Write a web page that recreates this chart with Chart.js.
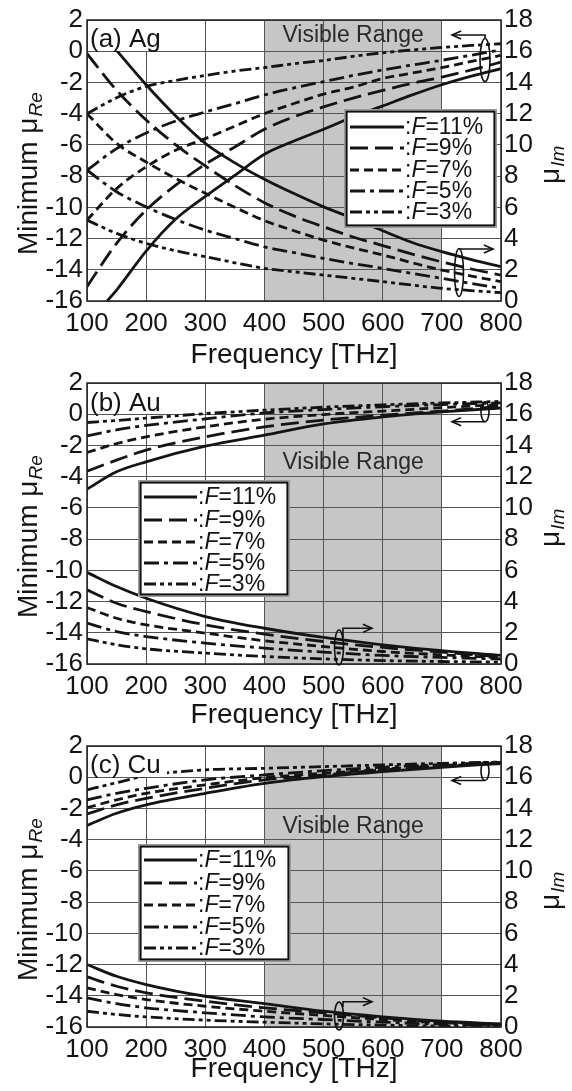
<!DOCTYPE html>
<html>
<head>
<meta charset="utf-8">
<script src="https://cdn.jsdelivr.net/npm/chart.js@4.4.0/dist/chart.umd.min.js"></script>
<style>
  html, body { margin: 0; padding: 0; background: #fff; }
  #wrap { position: relative; width: 572px; height: 1091px; overflow: hidden; }
  #wrap canvas { position: absolute; left: 0; }
</style>
</head>
<body>
<div id="wrap">
  <canvas id="chartAg" width="572" height="380" style="top:0px"></canvas>
  <canvas id="chartAu" width="572" height="380" style="top:363px"></canvas>
  <canvas id="chartCu" width="572" height="365" style="top:726px"></canvas>
</div>
<script>
// ---- data ----
// frequency samples [THz]
const freqAg = [100, 150, 200, 250, 300, 350, 400, 450, 500, 550, 600, 650, 700, 750, 800];
const freqAgRe11 = [134, 150, 200, 250, 300, 350, 400, 450, 500, 550, 600, 650, 700, 750, 800];
const freqAgIm11 = [140, 150, 200, 250, 300, 350, 400, 450, 500, 550, 600, 650, 700, 750, 800];
const freqAuCu = [100, 150, 200, 300, 400, 500, 600, 700, 800];

// visible range band [THz]
const bandStart = 400;
const bandEnd = 700;

// filling factors, same order as the series below
const fillFactors = ['11%', '9%', '7%', '5%', '3%'];

// (a) Ag - minimum mu Re (left axis)
const agRe11 = [-16, -15.3, -12.8, -10.75, -9.3, -7.95, -6.6, -5.75, -5.0, -4.2, -3.5, -2.8, -2.15, -1.6, -1.12];
const agRe9 = [-15.08, -12.31, -10.18, -8.58, -7.24, -6.13, -5.0, -4.2, -3.57, -3.0, -2.51, -2.05, -1.66, -1.2, -0.7];
const agRe7 = [-10.82, -8.8, -7.41, -6.34, -5.6, -4.8, -4.0, -3.35, -2.75, -2.3, -1.75, -1.4, -1.05, -0.65, -0.27];
const agRe5 = [-7.62, -6.24, -5.24, -4.47, -3.89, -3.36, -2.8, -2.35, -1.95, -1.55, -1.2, -0.88, -0.58, -0.25, 0.09];
const agRe3 = [-4.0, -2.98, -2.25, -1.87, -1.55, -1.27, -1.05, -0.8, -0.59, -0.33, -0.1, 0.08, 0.24, 0.37, 0.48];
// (a) Ag - mu Im (right axis)
const agIm11 = [16.5, 16.05, 13.85, 11.85, 10.1, 8.85, 7.8, 6.88, 6.03, 5.29, 4.5, 3.75, 3.16, 2.65, 2.2];
const agIm9 = [15.84, 13.5, 11.6, 10.0, 8.65, 7.4, 6.3, 5.45, 4.75, 4.1, 3.55, 3.0, 2.5, 2.05, 1.66];
const agIm7 = [12.0, 10.1, 8.9, 7.85, 6.9, 6.0, 5.15, 4.5, 3.9, 3.4, 2.95, 2.45, 1.98, 1.6, 1.24];
const agIm5 = [8.38, 7.0, 6.03, 5.22, 4.54, 4.0, 3.47, 3.1, 2.73, 2.4, 2.09, 1.77, 1.45, 1.12, 0.81];
const agIm3 = [5.18, 4.33, 3.69, 3.22, 2.84, 2.45, 2.09, 1.87, 1.66, 1.45, 1.24, 1.02, 0.81, 0.67, 0.53];

// (b) Au
const auRe11 = [-4.8, -3.69, -3.05, -2.05, -1.34, -0.62, -0.17, 0.15, 0.4];
const auRe9 = [-3.65, -2.94, -2.3, -1.45, -0.81, -0.38, -0.06, 0.2, 0.5];
const auRe7 = [-2.45, -1.88, -1.45, -0.81, -0.32, -0.02, 0.2, 0.42, 0.63];
const auRe5 = [-1.39, -1.0, -0.72, -0.3, 0.08, 0.3, 0.48, 0.62, 0.73];
const auRe3 = [-0.53, -0.4, -0.25, 0.04, 0.26, 0.45, 0.6, 0.72, 0.82];
const auIm11 = [5.87, 4.96, 4.21, 3.04, 2.29, 1.7, 1.23, 0.85, 0.55];
const auIm9 = [4.75, 3.89, 3.36, 2.51, 1.91, 1.44, 1.06, 0.76, 0.45];
const auIm7 = [3.62, 2.93, 2.51, 1.98, 1.49, 1.12, 0.8, 0.59, 0.4];
const auIm5 = [2.62, 2.08, 1.76, 1.34, 1.02, 0.76, 0.55, 0.42, 0.32];
const auIm3 = [1.61, 1.23, 0.97, 0.7, 0.48, 0.33, 0.22, 0.16, 0.12];

// (c) Cu
const cuRe11 = [-3.09, -2.31, -1.77, -1.03, -0.39, 0.04, 0.36, 0.64, 0.88];
const cuRe9 = [-2.35, -1.77, -1.35, -0.71, -0.17, 0.15, 0.47, 0.72, 0.9];
const cuRe7 = [-1.95, -1.45, -1.03, -0.49, -0.03, 0.25, 0.51, 0.76, 0.92];
const cuRe5 = [-1.45, -1.03, -0.71, -0.17, 0.15, 0.42, 0.64, 0.81, 0.95];
const cuRe3 = [-0.81, -0.35, 0.1, 0.47, 0.57, 0.68, 0.79, 0.89, 0.97];
const cuIm11 = [4.0, 3.25, 2.72, 1.97, 1.5, 1.01, 0.65, 0.37, 0.2];
const cuIm9 = [3.21, 2.61, 2.19, 1.65, 1.23, 0.91, 0.59, 0.31, 0.18];
const cuIm7 = [2.51, 2.08, 1.76, 1.33, 1.01, 0.74, 0.48, 0.27, 0.15];
const cuIm5 = [1.87, 1.5, 1.23, 0.91, 0.65, 0.48, 0.31, 0.18, 0.12];
const cuIm3 = [1.01, 0.8, 0.65, 0.44, 0.31, 0.2, 0.12, 0.06, 0.05];

// ---- styling ----
const FONT = '"Liberation Sans", Arial, Helvetica, sans-serif';
const INK = '#141414';
const GRID = '#555';
const dashes = [[], [18, 7], [9, 5], [15, 5, 4, 5], [12, 4, 4, 4, 4, 4]];

function pts(xs, ys) {
    return ys.map((y, i) => ({ x: xs[i], y: y }));
}

function buildDatasets(reFreqs, reSets, imFreqs, imSets) {
    const out = [];
    for (let i = 0; i < reSets.length; i++) {
        const common = {
            borderColor: INK,
            borderWidth: 2.8,
            borderDash: dashes[i],
            pointRadius: 0,
            fill: false,
            cubicInterpolationMode: 'monotone'
        };
        out.push(Object.assign({ label: fillFactors[i], data: pts(reFreqs[i], reSets[i]), yAxisID: 'yRe' }, common));
        out.push(Object.assign({ label: fillFactors[i], data: pts(imFreqs[i], imSets[i]), yAxisID: 'yIm', isIm: true }, common));
    }
    return out;
}

function drawArrow(ctx, p) {
    ctx.beginPath();
    ctx.moveTo(p[0][0], p[0][1]);
    for (let i = 1; i < p.length; i++) ctx.lineTo(p[i][0], p[i][1]);
    ctx.stroke();
    const [ex, ey] = p[p.length - 1];
    const [px, py] = p[p.length - 2];
    const ang = Math.atan2(ey - py, ex - px);
    ctx.beginPath();
    ctx.moveTo(ex - 10 * Math.cos(ang - 0.42), ey - 10 * Math.sin(ang - 0.42));
    ctx.lineTo(ex, ey);
    ctx.lineTo(ex - 10 * Math.cos(ang + 0.42), ey - 10 * Math.sin(ang + 0.42));
    ctx.stroke();
}

// draws "main" + italic subscript; ctx already positioned
function subText(ctx, main, sub, mainSize, subSize, drop) {
    ctx.font = mainSize + 'px ' + FONT;
    ctx.fillText(main, 0, 0);
    const w = ctx.measureText(main).width;
    ctx.font = 'italic ' + subSize + 'px ' + FONT;
    ctx.fillText(sub, w + 1, drop);
}

const decor = {
    id: 'panelDecor',
    beforeDraw(chart, args, o) {
        const { ctx, chartArea: a, scales } = chart;
        const x0 = scales.x.getPixelForValue(bandStart);
        const x1 = scales.x.getPixelForValue(bandEnd);
        ctx.save();
        ctx.fillStyle = '#c6c6c6';
        ctx.fillRect(x0, a.top, x1 - x0, a.bottom - a.top);
        ctx.restore();
    },
    beforeDatasetsDraw(chart, args, o) {
        const { ctx, scales } = chart;
        const cx = (scales.x.getPixelForValue(bandStart) + scales.x.getPixelForValue(bandEnd)) / 2;
        ctx.save();
        ctx.fillStyle = '#2a2a2a';
        ctx.font = '23px ' + FONT;
        ctx.textAlign = 'center';
        ctx.textBaseline = 'alphabetic';
        ctx.fillText('Visible Range', cx, o.visibleY);
        ctx.restore();
    },
    afterDatasetsDraw(chart, args, o) {
        const { ctx, chartArea: a } = chart;
        ctx.save();
        // plot frame
        ctx.strokeStyle = '#222';
        ctx.lineWidth = 1.5;
        ctx.strokeRect(a.left, a.top, a.right - a.left, a.bottom - a.top);

        // panel tag with white patch behind it
        ctx.fillStyle = '#fff';
        ctx.fillRect(a.left + 1, a.top + 1, o.tagBox[0] - a.left - 1, o.tagBox[1] - a.top - 1);
        ctx.fillStyle = INK;
        ctx.font = '26px ' + FONT;
        ctx.textBaseline = 'alphabetic';
        ctx.fillText(o.tag, a.left + 3, o.tagY);

        // legend
        const L = o.legend;
        ctx.fillStyle = '#fff';
        ctx.fillRect(L.x, L.y, L.w, L.h);
        ctx.strokeStyle = '#999';
        ctx.lineWidth = 1;
        ctx.strokeRect(L.x + 0.5, L.y + 0.5, L.w - 1, L.h - 1);
        ctx.strokeStyle = '#111';
        ctx.lineWidth = 2.2;
        ctx.strokeRect(L.x + 2.5, L.y + 2.5, L.w - 5, L.h - 5);
        const sets = chart.data.datasets.filter(d => !d.isIm);
        sets.forEach((d, i) => {
            const ry = L.rows[i];
            ctx.strokeStyle = INK;
            ctx.lineWidth = 2.8;
            ctx.setLineDash(d.borderDash);
            ctx.beginPath();
            ctx.moveTo(L.x0, ry);
            ctx.lineTo(L.x1, ry);
            ctx.stroke();
            ctx.setLineDash([]);
            ctx.fillStyle = INK;
            ctx.textBaseline = 'middle';
            let tx = L.x1 + 1;
            ctx.font = '23px ' + FONT;
            ctx.fillText(':', tx, ry + 1);
            tx += ctx.measureText(':').width;
            ctx.font = 'italic 23px ' + FONT;
            ctx.fillText('F', tx, ry + 1);
            tx += ctx.measureText('F').width;
            ctx.font = '23px ' + FONT;
            ctx.fillText('=' + d.label, tx, ry + 1);
        });

        // ellipses and arrows that tie the curves to their axes
        ctx.strokeStyle = '#111';
        ctx.lineWidth = 1.6;
        o.ellipses.forEach(e => {
            ctx.beginPath();
            ctx.ellipse(e[0], e[1], e[2], e[3], 0, 0, Math.PI * 2);
            ctx.stroke();
        });
        o.arrows.forEach(p => drawArrow(ctx, p));
        ctx.restore();
    },
    afterDraw(chart, args, o) {
        const { ctx, chartArea: a } = chart;
        ctx.save();
        ctx.fillStyle = INK;
        ctx.textBaseline = 'alphabetic';
        // x title
        ctx.font = '28px ' + FONT;
        ctx.textAlign = 'center';
        ctx.fillText('Frequency [THz]', (a.left + a.right) / 2, o.xTitleY);
        ctx.textAlign = 'left';
        // left title
        ctx.save();
        ctx.translate(37, 255);
        ctx.rotate(-Math.PI / 2);
        subText(ctx, 'Minimum \u03bc', 'Re', 28, 19, 5);
        ctx.restore();
        // right title
        ctx.save();
        ctx.translate(559, 184);
        ctx.rotate(-Math.PI / 2);
        subText(ctx, '\u03bc', 'Im', 28, 19, 5);
        ctx.restore();
        ctx.restore();
    }
};

function makeChart(id, canvasH, datasets, deco) {
    const tickFont = { family: FONT, size: 26 };
    return new Chart(document.getElementById(id), {
        type: 'line',
        data: { datasets: datasets },
        options: {
            responsive: false,
            animation: false,
            layout: { padding: { top: 20, left: 0, right: 0, bottom: 0 } },
            plugins: {
                legend: { display: false },
                tooltip: { enabled: false },
                panelDecor: deco
            },
            scales: {
                x: {
                    type: 'linear',
                    min: 100,
                    max: 800,
                    afterFit: s => { s.height = canvasH - 301; },
                    ticks: { stepSize: 100, autoSkip: false, maxRotation: 0, color: INK, font: tickFont, padding: 7 },
                    grid: { color: GRID, lineWidth: 1, drawTicks: false },
                    border: { display: false }
                },
                yRe: {
                    type: 'linear',
                    position: 'left',
                    min: -16,
                    max: 2,
                    afterFit: s => { s.width = 87; },
                    ticks: { stepSize: 2, autoSkip: false, color: INK, font: tickFont, padding: 4 },
                    grid: { color: GRID, lineWidth: 1, drawTicks: false },
                    border: { display: false }
                },
                yIm: {
                    type: 'linear',
                    position: 'right',
                    min: 0,
                    max: 18,
                    afterFit: s => { s.width = 71; },
                    ticks: { stepSize: 2, autoSkip: false, color: INK, font: tickFont, padding: 3 },
                    grid: { display: false, drawTicks: false },
                    border: { display: false }
                }
            }
        },
        plugins: [decor]
    });
}

const agFreqRe = [freqAgRe11, freqAg, freqAg, freqAg, freqAg];
const agFreqIm = [freqAgIm11, freqAg, freqAg, freqAg, freqAg];
const bcFreq = [freqAuCu, freqAuCu, freqAuCu, freqAuCu, freqAuCu];

makeChart('chartAg', 380,
    buildDatasets(agFreqRe, [agRe11, agRe9, agRe7, agRe5, agRe3], agFreqIm, [agIm11, agIm9, agIm7, agIm5, agIm3]),
    {
        tag: '(a) Ag', tagY: 47, tagBox: [167, 51],
        visibleY: 42,
        xTitleY: 363,
        legend: { x: 344, y: 109, w: 153, h: 119, rows: [127, 148, 170, 191, 212], x0: 350, x1: 404 },
        ellipses: [[485, 60, 5, 21.5], [459, 272.5, 4.5, 24]],
        arrows: [[[485, 38.5], [485, 35], [452, 35]], [[459, 249], [493, 249]]]
    });

makeChart('chartAu', 380,
    buildDatasets(bcFreq, [auRe11, auRe9, auRe7, auRe5, auRe3], bcFreq, [auIm11, auIm9, auIm7, auIm5, auIm3]),
    {
        tag: '(b) Au', tagY: 48, tagBox: [167, 51],
        visibleY: 106,
        xTitleY: 360,
        legend: { x: 138, y: 117, w: 152, h: 117, rows: [134, 157, 179, 200, 221], x0: 144, x1: 197 },
        ellipses: [[485, 48.7, 4, 10], [339, 284.5, 4.5, 17.5]],
        arrows: [[[485, 58.7], [452, 58.7]], [[343, 275], [343, 265.3], [372, 265.3]]]
    });

makeChart('chartCu', 365,
    buildDatasets(bcFreq, [cuRe11, cuRe9, cuRe7, cuRe5, cuRe3], bcFreq, [cuIm11, cuIm9, cuIm7, cuIm5, cuIm3]),
    {
        tag: '(c) Cu', tagY: 47, tagBox: [167, 51],
        visibleY: 107,
        xTitleY: 351,
        legend: { x: 138, y: 118, w: 153, h: 118, rows: [134, 157, 179, 201, 222], x0: 144, x1: 197 },
        ellipses: [[485, 45, 4, 9.5], [339, 290, 4.5, 14]],
        arrows: [[[485, 54.5], [452, 54.5]], [[343, 281], [343, 275.7], [372, 275.7]]]
    });
</script>
</body>
</html>
